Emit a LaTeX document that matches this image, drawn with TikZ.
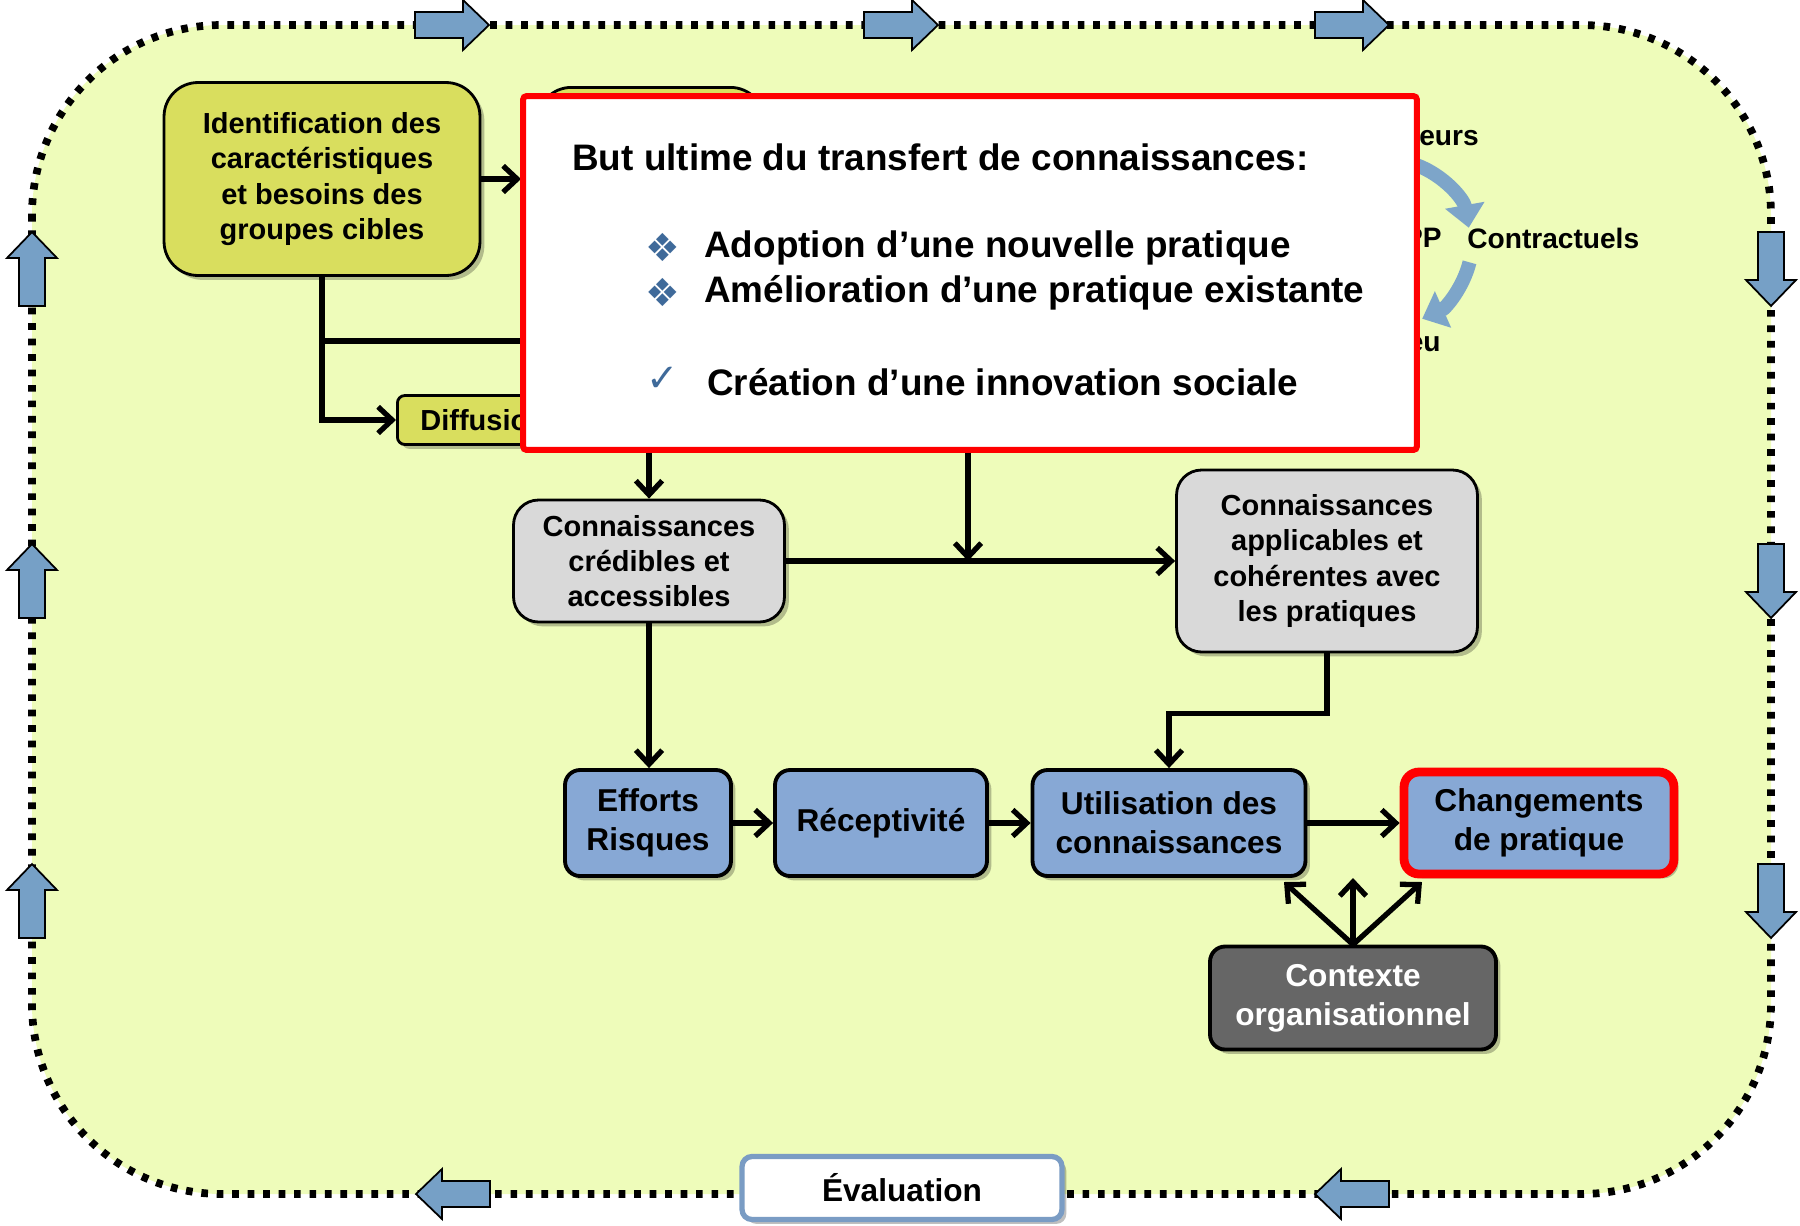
\documentclass[tikz,border=0pt]{standalone}
\usepackage{fontspec}
\setmainfont{Liberation Sans}
\newfontfamily\symfont{DejaVu Sans}
\usetikzlibrary{arrows.meta,shadows}
\definecolor{fond}{RGB}{238,252,186}
\definecolor{jaune}{RGB}{217,222,94}
\definecolor{gris}{RGB}{217,217,217}
\definecolor{bleu}{RGB}{135,168,213}
\definecolor{bleuf}{RGB}{118,160,198}
\definecolor{puce}{RGB}{63,106,154}
\definecolor{sombre}{RGB}{102,102,102}
\definecolor{bordeval}{RGB}{122,156,196}
\def\blockarrow(#1,#2)(#3){\draw[blockarr,shift={(#1,#2)},rotate=#3] (-37,-13) -- (11,-13) -- (11,-25) -- (37,0) -- (11,25) -- (11,13) -- (-37,13) -- cycle}

\begin{document}
\begin{tikzpicture}[x=0.02cm,y=-0.02cm,
    ombre/.style={drop shadow={shadow xshift=2.5pt,shadow yshift=-2.5pt,opacity=0.25,fill=black}},
    boxj/.style={draw=black,line width=1.6pt,fill=jaune,rounded corners=0.68cm,align=center,
        font=\fontsize{16.5}{20}\selectfont\bfseries,ombre},
    boxg/.style={boxj,fill=gris,rounded corners=0.5cm},
    boxb/.style={boxj,fill=bleu,line width=2.2pt,rounded corners=0.3cm,
        font=\fontsize{18}{22}\selectfont\bfseries},
    petit/.style={font=\fontsize{16}{19}\selectfont\bfseries,inner sep=0pt},
    titre/.style={font=\fontsize{21}{25}\selectfont\bfseries,inner sep=0pt},
    puce/.style={font=\symfont\fontsize{22}{24}\selectfont,text=puce,inner sep=0pt},
    conn/.style={line width=3pt,-{Straight Barb[length=8pt,width=15pt]}},
    lien/.style={line width=3pt},
    cycle/.style={line width=8pt,draw=bleuf!95!white,-{Triangle[length=13pt,width=22pt]}},
    blockarr/.style={fill=bleuf,draw=black,line width=1pt},
    bord/.style={line width=4.4pt,dash pattern=on 3.8pt off 5pt,fill=fond,rounded corners=3.8cm}]
    \useasboundingbox (0,0) rectangle (1800,1225);

    %%% CADRE %%%
    \draw[bord] (32,25) rectangle (1771,1194);
    \blockarrow(452,25)(0);
    \blockarrow(901,25)(0);
    \blockarrow(1352,25)(0);
    \blockarrow(1771,269)(-90);
    \blockarrow(1771,581)(-90);
    \blockarrow(1771,901)(-90);
    \blockarrow(32,269)(90);
    \blockarrow(32,581)(90);
    \blockarrow(32,901)(90);
    \blockarrow(453,1194)(180);
    \blockarrow(1352,1194)(180);

    %%% HAUT %%%
    \node[boxj,minimum width=6.32cm,minimum height=3.86cm] (ident) at (322,179) {Identification des\\caractéristiques\\et besoins des\\groupes cibles};
    \node[boxj,anchor=north west,minimum width=4.54cm,minimum height=3cm] (hidbox) at (536,86) {};
    \node[boxj,anchor=west,rounded corners=0.15cm,minimum height=0.98cm,inner xsep=0.46cm] (diff) at (396,420) {Diffusion};

    \node[petit,anchor=east] (acteurs) at (1479,138) {eurs};
    \node[petit,anchor=east] (pp) at (1442,238) {PP};
    \node[petit,anchor=west] (contr) at (1467,238) {Contractuels};
    \node[petit,anchor=east] (milieu) at (1441,344) {eu};
    \coordinate (cc) at (1388,242);
    \draw[cycle] (cc) ++(-70:82) arc[start angle=-70,end angle=-10,radius=82];
    \draw[cycle] (cc) ++(14:84) arc[start angle=14,end angle=66,radius=84];

    \draw[conn,shorten >=0.3cm] (ident.east) -- (ident.east -| hidbox.west);
    \draw[conn] (ident.south) |- (diff.west);
    \coordinate (j1) at (322,341);
    \draw[lien] (j1) -- (j1 -| hidbox.west);

    %%% BUT ULTIME %%%
    \node[draw=red,line width=3.4pt,fill=white,rounded corners=2pt,minimum width=17.88cm,minimum height=7.08cm] (but) at (970,273) {};
    \node[titre,anchor=west] (butT) at (572,157) {But ultime du transfert de connaissances:};
    \node[puce] (p1) at (663,247) {❖};
    \node[titre,anchor=west] (t1) at (704,248) {Adoption d’une nouvelle pratique};
    \node[puce] (p2) at (663,292) {❖};
    \node[titre,anchor=west] (t2) at (704,293) {Amélioration d’une pratique existante};
    \node[puce] (p3) at (663,379) {✓};
    \node[titre,anchor=west] (t3) at (707,382) {Création d’une innovation sociale};

    %%% CONNAISSANCES %%%
    \node[boxg,minimum width=5.42cm,minimum height=2.44cm] (cred) at (649,561) {Connaissances\\crédibles et\\accessibles};
    \node[boxg,minimum width=6.02cm,minimum height=3.64cm] (appl) at (1327,561) {Connaissances\\applicables et\\cohérentes avec\\les pratiques};
    \coordinate (j2) at (968,561);
    \draw[conn] (but.south -| cred.north) -- (cred.north);
    \draw[conn] (cred.east) -- (appl.west);
    \draw[conn] (but.south -| j2) -- (j2);

    %%% PRATIQUE %%%
    \node[boxb,minimum width=3.32cm,minimum height=2.12cm] (eff) at (648,823) {Efforts\\Risques};
    \node[boxb,minimum width=4.24cm,minimum height=2.12cm] (recep) at (881,823) {Réceptivité};
    \node[boxb,minimum width=5.46cm,minimum height=2.12cm] (util) at (1169,823) {Utilisation des\\connaissances};
    \node[boxb,draw=red,line width=5pt,minimum width=5.4cm,minimum height=2.04cm] (chang) at (1539,823) {Changements\\de pratique};
    \node[boxb,fill=sombre,text=white,minimum width=5.72cm,minimum height=2.06cm] (ctx) at (1353,998) {Contexte\\organisationnel};

    \draw[conn] (cred.south) -- (cred.south |- eff.north);
    \draw[conn] (appl.south) -- ++(0,60) -| (util.north);
    \draw[conn] (eff.east) -- (recep.west);
    \draw[conn] (recep.east) -- (util.west);
    \draw[conn] (util.east) -- (chang.west);
    \coordinate (k1) at (1284,882);
    \coordinate (k2) at (1353,878);
    \coordinate (k3) at (1422,882);
    \draw[conn] (ctx.north) -- (k1);
    \draw[conn] (ctx.north) -- (k2);
    \draw[conn] (ctx.north) -- (k3);

    %%% EVALUATION %%%
    \node[draw=bordeval,line width=3pt,fill=white,rounded corners=0.2cm,minimum width=6.4cm,minimum height=1.26cm,
        font=\fontsize{18}{22}\selectfont\bfseries,ombre] (eval) at (902,1188) {Évaluation};
\end{tikzpicture}
\end{document}
